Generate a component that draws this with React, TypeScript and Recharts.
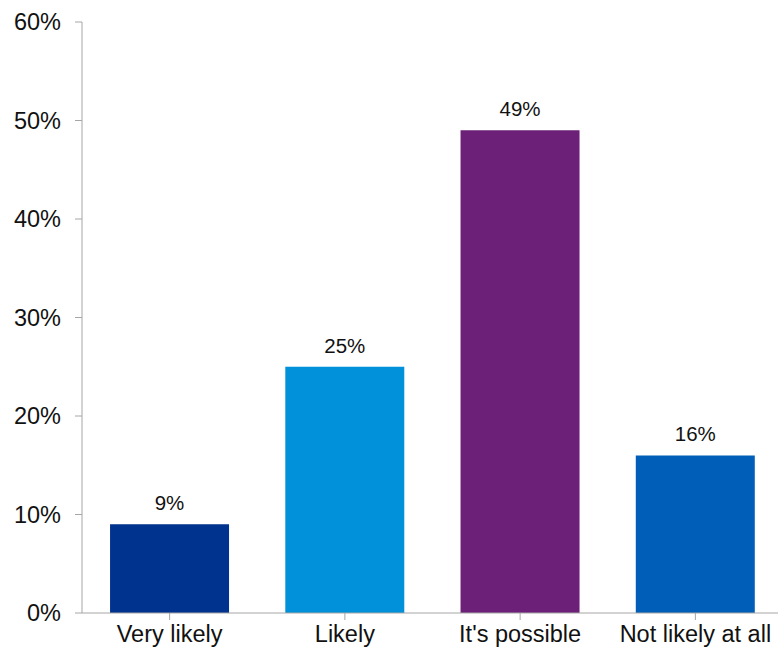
import { Bar, BarChart, Cell, LabelList, XAxis, YAxis } from "recharts";

const CATEGORIES = ["Very likely", "Likely", "It's possible", "Not likely at all"];
const VALUES = [9, 25, 49, 16];
const BAR_COLORS = ["#00338D", "#0091DA", "#6D2077", "#005EB8"];
const Y_TICKS = [0, 10, 20, 30, 40, 50, 60];

const data = CATEGORIES.map((name, i) => ({ name, value: VALUES[i] }));

const AXIS_COLOR = "#a6a6a6";
const FONT = "'Liberation Sans', Arial, sans-serif";

export default function App() {
  return (
    <div style={{ position: "absolute", left: 0, top: 0, width: 778, height: 648, overflow: "hidden", background: "#fff" }}>
      <BarChart
        width={783}
        height={648}
        data={data}
        margin={{ top: 22, right: 0, left: 0, bottom: 0 }}
        barCategoryGap="16%"
        style={{ fontFamily: FONT }}
      >
        <XAxis
          dataKey="name"
          height={35}
          tickSize={7}
          tickMargin={5}
          interval={0}
          stroke={AXIS_COLOR}
          tick={{ fill: "#111", fontSize: 23.5, fontFamily: FONT }}
        />
        <YAxis
          width={82}
          domain={[0, 60]}
          ticks={Y_TICKS}
          tickFormatter={(v) => `${v}%`}
          tickSize={7}
          tickMargin={14}
          stroke={AXIS_COLOR}
          tick={{ fill: "#111", fontSize: 23.5, fontFamily: FONT }}
        />
        <Bar dataKey="value" isAnimationActive={false}>
          {data.map((d, i) => (
            <Cell key={d.name} fill={BAR_COLORS[i]} />
          ))}
          <LabelList
            dataKey="value"
            position="top"
            offset={14}
            formatter={(v) => `${v}%`}
            fill="#111"
            fontSize={20.5}
            fontFamily={FONT}
          />
        </Bar>
      </BarChart>
    </div>
  );
}
